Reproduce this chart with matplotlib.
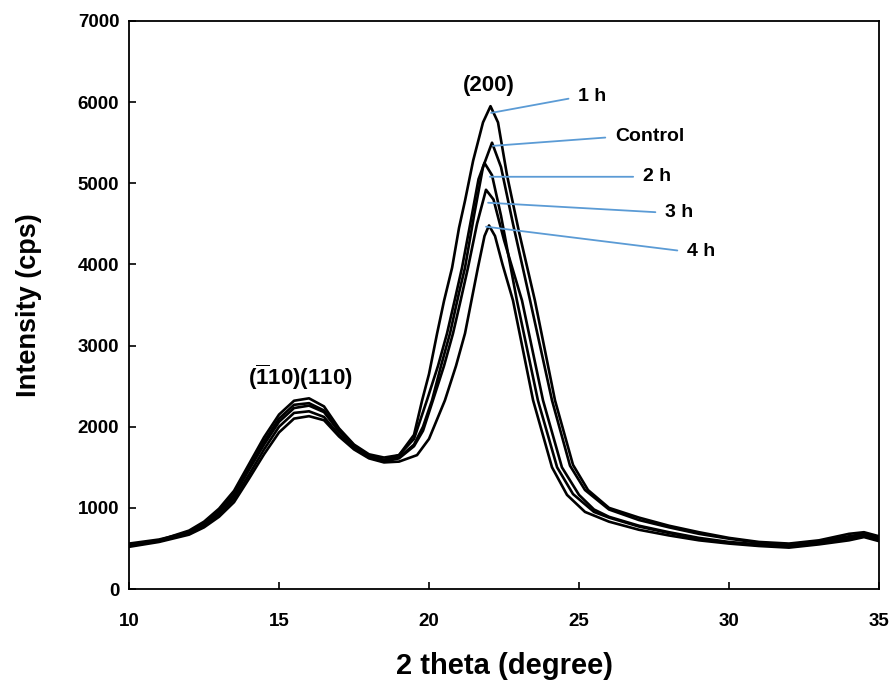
import matplotlib
matplotlib.use("Agg")
import matplotlib.pyplot as plt

plt.rcParams["font.family"] = ["Liberation Sans", "DejaVu Sans"]
plt.rcParams["mathtext.fontset"] = "custom"
plt.rcParams["mathtext.rm"] = "Liberation Sans"
plt.rcParams["mathtext.bf"] = "Liberation Sans:bold"

# values (2 theta in degrees, intensity in cps)
theta_1h = [10, 11, 12, 12.5, 13, 13.5, 14, 14.5, 15, 15.5, 16, 16.5, 17, 17.5, 18, 18.5, 19, 19.5,
            19.77, 20, 20.27, 20.5, 20.77, 21, 21.2, 21.47, 21.8, 22.05, 22.3, 22.6, 23, 23.53, 24.2,
            24.8, 25.3, 26, 27, 28, 29, 30, 31, 32, 33, 34, 34.5, 35]
int_1h = [540, 600, 720, 830, 990, 1210, 1540, 1870, 2150, 2320, 2350, 2250, 1980, 1780, 1660, 1620, 1650, 1900,
          2325, 2650, 3150, 3550, 3960, 4450, 4785, 5277, 5750, 5950, 5750, 5100, 4400, 3555, 2325,
          1530, 1220, 1000, 880, 780, 700, 630, 580, 560, 600, 680, 700, 650]

theta_ctrl = [10, 11, 12, 12.5, 13, 13.5, 14, 14.5, 15, 15.5, 16, 16.5, 17, 17.5, 18, 18.5, 19, 19.5,
              19.8, 20.1, 20.4, 20.7, 21.0, 21.2, 21.5, 21.8, 22.1, 22.4, 22.8, 23.37, 24.1, 24.7,
              25.2, 26, 27, 28, 29, 30, 31, 32, 33, 34, 34.5, 35]
int_ctrl = [560, 610, 700, 800, 950, 1150, 1470, 1780, 2060, 2230, 2260, 2180, 1940, 1760, 1640, 1590, 1620, 1780,
            2000, 2325, 2750, 3150, 3650, 3960, 4600, 5200, 5500, 5200, 4500, 3555, 2325, 1520,
            1220, 980, 850, 760, 680, 620, 570, 550, 590, 650, 680, 630]

theta_2h = [10, 11, 12, 12.5, 13, 13.5, 14, 14.5, 15, 15.5, 16, 16.5, 17, 17.5, 18, 18.5, 19, 19.5,
            19.93, 20.3, 20.6, 20.85, 21.1, 21.4, 21.65, 21.85, 22.1, 22.4, 22.93, 23.63, 24.27, 24.8,
            25.5, 26, 27, 28, 29, 30, 31, 32, 33, 34, 34.5, 35]
int_2h = [530, 590, 690, 810, 960, 1170, 1490, 1820, 2100, 2270, 2290, 2200, 1950, 1770, 1640, 1590, 1650, 1850,
          2325, 2750, 3150, 3550, 3960, 4550, 5050, 5250, 5100, 4600, 3555, 2325, 1500, 1170,
          950, 880, 770, 690, 620, 570, 540, 520, 560, 620, 650, 600]

theta_3h = [10, 11, 12, 12.5, 13, 13.5, 14, 14.5, 15, 15.5, 16, 16.5, 17, 17.5, 18, 18.5, 19, 19.5,
            19.8, 20.13, 20.5, 20.8, 21.05, 21.3, 21.6, 21.9, 22.15, 22.5, 23.1, 23.8, 24.43, 25,
            25.5, 26, 27, 28, 29, 30, 31, 32, 33, 34, 34.5, 35]
int_3h = [540, 590, 680, 780, 920, 1110, 1410, 1720, 2000, 2170, 2190, 2120, 1900, 1740, 1620, 1570, 1610, 1760,
          1950, 2325, 2750, 3150, 3550, 3960, 4500, 4920, 4800, 4300, 3555, 2325, 1500, 1160,
          980, 890, 780, 700, 630, 580, 550, 530, 570, 630, 660, 610]

theta_4h = [10, 11, 12, 12.5, 13, 13.5, 14, 14.5, 15, 15.5, 16, 16.5, 17, 17.5, 18, 18.5, 19, 19.6,
            20.0, 20.53, 20.9, 21.2, 21.63, 21.85, 22.0, 22.2, 22.45, 22.8, 23.47, 24.1, 24.6,
            25.2, 26, 27, 28, 29, 30, 31, 32, 33, 34, 34.5, 35]
int_4h = [520, 580, 670, 760, 890, 1070, 1360, 1660, 1930, 2100, 2130, 2080, 1880, 1720, 1610, 1560, 1570, 1650,
          1850, 2325, 2750, 3150, 3960, 4350, 4480, 4350, 4000, 3555, 2325, 1500, 1160,
          950, 830, 730, 660, 600, 560, 530, 510, 550, 600, 640, 590]

series = [
    ("1 h", theta_1h, int_1h),
    ("Control", theta_ctrl, int_ctrl),
    ("2 h", theta_2h, int_2h),
    ("3 h", theta_3h, int_3h),
    ("4 h", theta_4h, int_4h),
]

# where each leader line touches its curve, and where its label sits
label_xy = [(22.07, 5867), (22.13, 5461), (22.03, 5080), (21.97, 4760), (21.9, 4465)]
label_text_xy = [(24.97, 6064), (26.2, 5572), (27.13, 5080), (27.87, 4637), (28.6, 4157)]

fig = plt.figure(figsize=(8.93, 6.83), dpi=100)
ax = fig.add_axes([0.1445, 0.1376, 0.8398, 0.8317])

for name, x, y in series:
    ax.plot(x, y, color="black", lw=1.9)

for (name, _, _), xy, txy in zip(series, label_xy, label_text_xy):
    ax.annotate(name, xy=xy, xytext=txy, fontsize=14, fontweight="bold",
                ha="left", va="center",
                arrowprops=dict(arrowstyle="-", color="#5B9BD5", lw=1.3,
                                shrinkA=5, shrinkB=0, relpos=(0, 0.5)))

ax.text(22.0, 6070, "(200)", fontsize=16, fontweight="bold", ha="center", va="bottom")
ax.text(15.7, 2430, r"$\mathbf{(\overline{1}10)(110)}$", fontsize=16, ha="center", va="bottom")

ax.set_xlim(10, 35)
ax.set_ylim(0, 7000)
ax.set_xticks([10, 15, 20, 25, 30, 35])
ax.set_yticks(range(0, 7001, 1000))
ax.tick_params(direction="in", length=5, width=1.2, labelsize=13.5)
ax.tick_params(axis="x", pad=17)
ax.tick_params(axis="y", pad=7)
for lbl in ax.get_xticklabels() + ax.get_yticklabels():
    lbl.set_fontweight("bold")
for sp in ax.spines.values():
    sp.set_linewidth(1.3)

ax.set_xlabel("2 theta (degree)", fontsize=21, fontweight="bold", labelpad=16)
ax.set_ylabel("Intensity (cps)", fontsize=19.5, fontweight="bold", labelpad=26)

fig.savefig("out.png", dpi=100)
